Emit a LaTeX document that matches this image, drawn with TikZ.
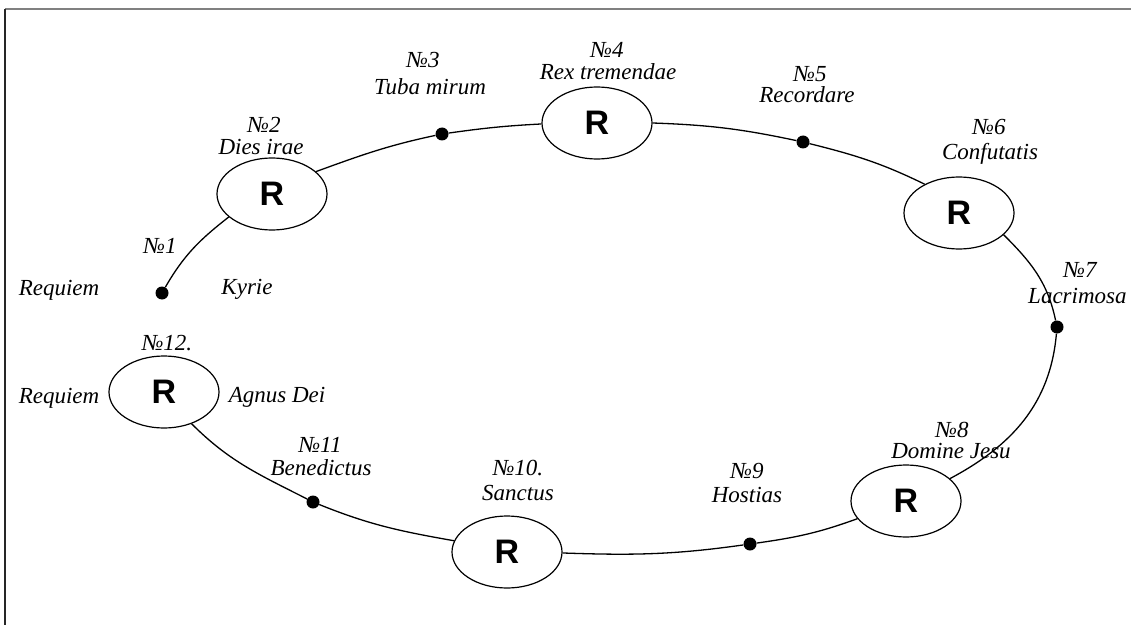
\documentclass[tikz,border=0pt]{standalone}
\usepackage{fontspec}
\setmainfont{Liberation Serif}
\setsansfont{Liberation Sans}
\usetikzlibrary{shapes.geometric}
\tikzset{
  rnode/.style={ellipse, draw, line width=1.2pt, minimum width=110pt, minimum height=72pt, inner sep=0pt,
    font=\sffamily\bfseries\fontsize{34}{34}\selectfont},
  dotnode/.style={circle, fill, inner sep=0pt, minimum size=13pt},
  lbl/.style={anchor=base, inner sep=0pt, text depth=0pt, font=\itshape\fontsize{23}{23}\selectfont},
  conn/.style={line width=1.3pt},
}
\begin{document}
\begin{tikzpicture}[x=1pt,y=1pt]
\useasboundingbox (0,0) rectangle (1131,625);
% frame
\draw[line width=2pt, gray] (5,616) -- (1131,616);
\draw[line width=1.5pt, black!85] (5,616) -- (5,0);

% R nodes
\node[rnode] (e2) at (272,431) {R};
\node[rnode] (e4) at (597,502) {R};
\node[rnode] (e6) at (959,412) {R};
\node[rnode] (e8) at (906,124) {R};
\node[rnode] (e10) at (507,73) {R};
\node[rnode] (e12) at (164,233) {R};

% dots
\node[dotnode] (d1) at (162,332) {};
\node[dotnode] (d3) at (442,491) {};
\node[dotnode] (d5) at (803,483) {};
\node[dotnode] (d7) at (1057,298) {};
\node[dotnode] (d9) at (750,81) {};
\node[dotnode] (d11) at (313,123) {};

% connectors
\draw[conn] (d1) to[out=60,in=218] (e2.208);
\draw[conn] (e2.27) to[out=20,in=192] (d3);
\draw[conn] (d3) to[out=8,in=183] (e4.181);
\draw[conn] (e4.0) to[out=-2,in=168] (d5);
\draw[conn] (d5) to[out=-14,in=154] (e6.140);
\draw[conn] (e6.-26) to[out=-45,in=102] (d7);
\draw[conn] (d7) to[out=265,in=28] (e8.27);
\draw[conn] (e8.200) to[out=200,in=8] (d9);
\draw[conn] (d9) to[out=188,in=-2] (e10.-1);
\draw[conn] (e10.168) to[out=170,in=-22] (d11);
\draw[conn] (d11) to[out=153,in=-45] (e12.-49);

% labels
\node[lbl] (n1) at (160,372) {№1};
\node[lbl] (rq1) at (59,330) {Requiem};
\node[lbl] (ky) at (247,331) {Kyrie};
\node[lbl] (n2) at (264,492) {№2};
\node[lbl] (t2) at (261,470) {Dies irae};
\node[lbl] (n3) at (423,557) {№3};
\node[lbl] (t3) at (430,530) {Tuba mirum};
\node[lbl] (n4) at (607,567) {№4};
\node[lbl] (t4) at (608,545) {Rex tremendae};
\node[lbl] (n5) at (810,543) {№5};
\node[lbl] (t5) at (807,522) {Recordare};
\node[lbl] (n6) at (989,490) {№6};
\node[lbl] (t6) at (990,465) {Confutatis};
\node[lbl] (n7) at (1080,348) {№7};
\node[lbl, anchor=base west] (t7) at (1028,322) {Lacrimosa};
\node[lbl] (n8) at (952,188) {№8};
\node[lbl] (t8) at (951,167) {Domine Jesu};
\node[lbl] (n9) at (747,147) {№9};
\node[lbl] (t9) at (747,123) {Hostias};
\node[lbl] (n10) at (518,150) {№10.};
\node[lbl] (t10) at (518,125) {Sanctus};
\node[lbl] (n11) at (320,173) {№11};
\node[lbl] (t11) at (321,150) {Benedictus};
\node[lbl] (n12) at (167,275) {№12.};
\node[lbl] (rq2) at (59,222) {Requiem};
\node[lbl] (ag) at (277,223) {Agnus Dei};
\end{tikzpicture}
\end{document}
